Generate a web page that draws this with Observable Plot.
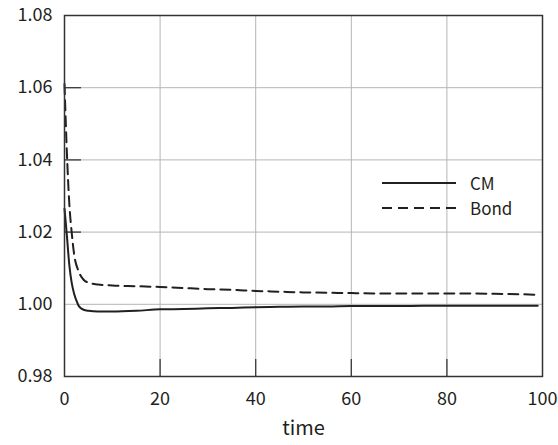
<!DOCTYPE html>
<html>
<head>
<meta charset="utf-8">
<script src="https://cdn.jsdelivr.net/npm/d3@7"></script>
<script src="https://cdn.jsdelivr.net/npm/@observablehq/plot@0.6"></script>
<style>
  html, body { margin: 0; padding: 0; background: #fff; }
  #wrap { position: relative; width: 558px; height: 445px; font-family: "Noto Sans CJK JP", "Noto Sans", sans-serif; }
  #legend { position: absolute; left: 382px; top: 170px; font-size: 17px; color: #231f20; }
  #legend .row { display: flex; align-items: center; height: 25px; }
  #legend .row span { line-height: 1; display: inline-block; }
  #legend svg { margin-right: 14px; }
</style>
</head>
<body>
<div id="wrap"></div>
<script>
// ---- data ----
const timeCM   = [0, 0.5, 1, 1.5, 2, 2.5, 3, 4, 5, 7, 10, 15, 20, 25, 30, 35, 40, 45, 50, 55, 60, 65, 70, 75, 80, 85, 90, 95, 99];
const valueCM  = [1.0265, 1.019, 1.011, 1.006, 1.003, 1.001, 0.9995, 0.9985, 0.9982, 0.998, 0.998, 0.9982, 0.9986, 0.9987, 0.9989, 0.999, 0.9992, 0.9993, 0.9994, 0.9994, 0.9995, 0.9995, 0.9995, 0.9996, 0.9996, 0.9996, 0.9996, 0.9996, 0.9996];
const timeBond  = [0, 0.5, 1, 1.5, 2, 3, 4, 5, 7, 10, 15, 20, 25, 30, 35, 40, 45, 50, 55, 60, 65, 70, 75, 80, 85, 90, 95, 99];
const valueBond = [1.061, 1.042, 1.028, 1.02, 1.014, 1.009, 1.0068, 1.006, 1.0055, 1.0052, 1.005, 1.0048, 1.0045, 1.0042, 1.004, 1.0037, 1.0035, 1.0033, 1.0032, 1.0031, 1.003, 1.003, 1.003, 1.003, 1.003, 1.0029, 1.0028, 1.0026];
const seriesNames = ["CM", "Bond"];
const xTicks = [0, 20, 40, 60, 80, 100];
const yTicks = [0.98, 1.00, 1.02, 1.04, 1.06, 1.08];
const xGrid = [20, 40, 60, 80];
const yGrid = [1.00, 1.02, 1.04, 1.06];

const cmRows = timeCM.map((t, i) => ({time: t, value: valueCM[i], series: seriesNames[0]}));
const bondRows = timeBond.map((t, i) => ({time: t, value: valueBond[i], series: seriesNames[1]}));

const W = 558, H = 445;
const mL = 64, mR = 16, mT = 15, mB = 69;
const ink = "#231f20";
const tickLen = 17;
const dash = "10,6";

const chart = Plot.plot({
  width: W, height: H,
  marginLeft: mL, marginRight: mR, marginTop: mT, marginBottom: mB,
  style: { fontFamily: '"Noto Sans CJK JP", "Noto Sans", sans-serif', fontSize: "18px", color: ink, background: "#fff" },
  x: { domain: [0, 100] },
  y: { domain: [0.98, 1.08] },
  marks: [
    Plot.gridX(xGrid, { stroke: "#b5b5b5", strokeOpacity: 1, strokeWidth: 1 }),
    Plot.gridY(yGrid, { stroke: "#b5b5b5", strokeOpacity: 1, strokeWidth: 1 }),
    Plot.tickY(yGrid.slice(1), { y: d => d, stroke: "#3a3a3a", strokeWidth: 1.3, insetRight: (W - mL - mR) - tickLen }),
    Plot.tickX(xGrid, { x: d => d, stroke: "#3a3a3a", strokeWidth: 1.3, insetTop: (H - mT - mB) - tickLen }),
    Plot.axisX(xTicks, { tickSize: 0, tickPadding: 16, fontSize: 18, label: null, fill: ink }),
    Plot.axisY(yTicks, { tickSize: 0, tickPadding: 12, fontSize: 18, label: null, tickFormat: d3.format(".2f"), fill: ink }),
    Plot.text(["time"], { frameAnchor: "bottom", dy: 58, fontSize: 20, fill: ink }),
    Plot.line(cmRows, { x: "time", y: "value", stroke: ink, strokeWidth: 2, curve: "monotone-x" }),
    Plot.line(bondRows, { x: "time", y: "value", stroke: ink, strokeWidth: 2, strokeDasharray: dash, curve: "monotone-x" }),
    Plot.frame({ stroke: "#333", strokeWidth: 1.5 })
  ]
});

const wrap = document.getElementById("wrap");
wrap.appendChild(chart);

// legend
const legend = document.createElement("div");
legend.id = "legend";
legend.innerHTML = seriesNames.map(name => `
  <div class="row">
    <svg width="74" height="4"><line x1="0" x2="74" y1="2" y2="2" stroke="${ink}" stroke-width="2" ${name === "Bond" ? `stroke-dasharray="${dash}"` : ""}/></svg>
    <span>${name}</span>
  </div>`).join("");
wrap.appendChild(legend);
</script>
</body>
</html>
